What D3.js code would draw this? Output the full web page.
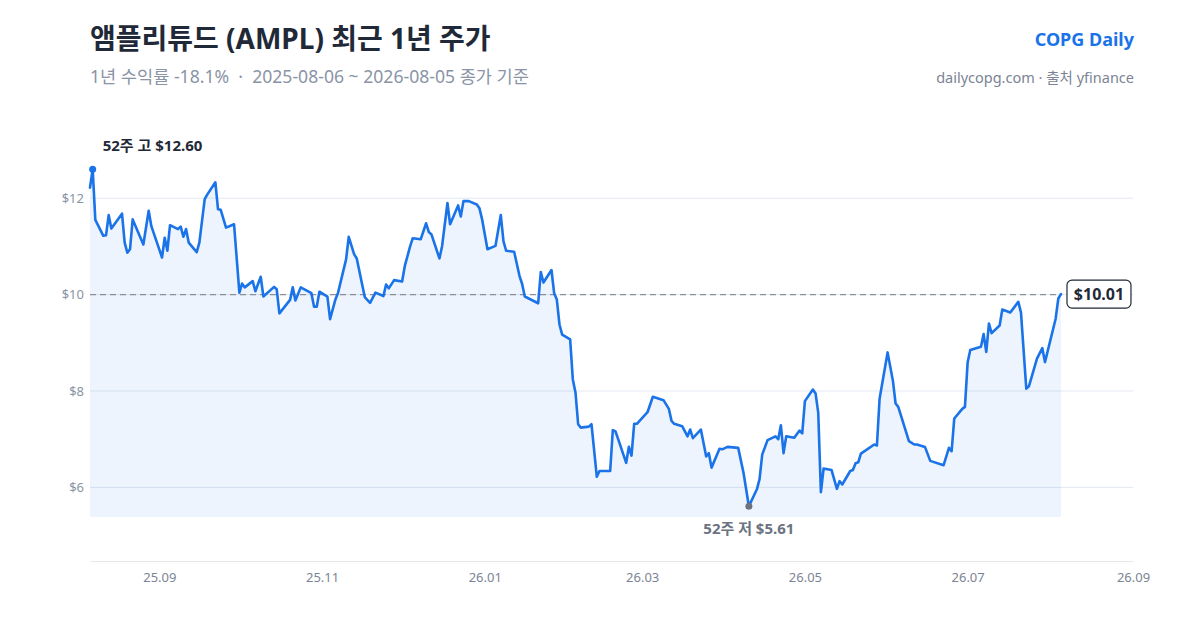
<!DOCTYPE html>
<html lang="ko">
<head>
<meta charset="utf-8">
<script src="https://cdn.jsdelivr.net/npm/d3@7"></script>
<style>
  html, body { margin: 0; padding: 0; background: #fff; }
  svg { display: block; font-family: "Noto Sans", "Noto Sans CJK KR", sans-serif; }
</style>
</head>
<body>
<svg id="chart" width="1200" height="630"></svg>
<script>
// Daily closes (turning points of the line)
const dates = [
  '2025-08-06','2025-08-07','2025-08-08','2025-08-11','2025-08-12','2025-08-13','2025-08-14','2025-08-18','2025-08-19','2025-08-20',
  '2025-08-21','2025-08-22','2025-08-26','2025-08-28','2025-08-29','2025-09-02','2025-09-03','2025-09-04','2025-09-05','2025-09-08',
  '2025-09-09','2025-09-10','2025-09-11','2025-09-12','2025-09-15','2025-09-16','2025-09-18','2025-09-19','2025-09-22','2025-09-23',
  '2025-09-24','2025-09-26','2025-09-29','2025-10-01','2025-10-02','2025-10-03','2025-10-06','2025-10-07','2025-10-09','2025-10-10',
  '2025-10-14','2025-10-15','2025-10-16','2025-10-20','2025-10-21','2025-10-22','2025-10-24','2025-10-28','2025-10-29','2025-10-30',
  '2025-10-31','2025-11-03','2025-11-04','2025-11-06','2025-11-07','2025-11-10','2025-11-11','2025-11-13','2025-11-14','2025-11-17',
  '2025-11-19','2025-11-21','2025-11-24','2025-11-25','2025-11-26','2025-11-28','2025-12-01','2025-12-02','2025-12-04','2025-12-05',
  '2025-12-08','2025-12-10','2025-12-11','2025-12-12','2025-12-15','2025-12-16','2025-12-18','2025-12-19','2025-12-22','2025-12-23',
  '2025-12-24','2025-12-26','2025-12-29','2025-12-30','2025-12-31','2026-01-02','2026-01-05','2026-01-07','2026-01-08','2026-01-09',
  '2026-01-12','2026-01-14','2026-01-15','2026-01-16','2026-01-21','2026-01-22','2026-01-23','2026-01-26','2026-01-27','2026-01-28',
  '2026-01-29','2026-01-30','2026-02-02','2026-02-03','2026-02-04','2026-02-05','2026-02-06','2026-02-09','2026-02-10','2026-02-12',
  '2026-02-13','2026-02-17','2026-02-18','2026-02-19','2026-02-20','2026-02-23','2026-02-24','2026-02-25','2026-02-26','2026-02-27',
  '2026-03-03','2026-03-05','2026-03-09','2026-03-11','2026-03-12','2026-03-13','2026-03-16','2026-03-18','2026-03-19','2026-03-20',
  '2026-03-23','2026-03-25','2026-03-26','2026-03-27','2026-03-30','2026-03-31','2026-04-02','2026-04-06','2026-04-08','2026-04-10',
  '2026-04-13','2026-04-14','2026-04-15','2026-04-17','2026-04-20','2026-04-21','2026-04-22','2026-04-23','2026-04-24','2026-04-27',
  '2026-04-29','2026-04-30','2026-05-01','2026-05-04','2026-05-05','2026-05-06','2026-05-07','2026-05-08','2026-05-11','2026-05-13',
  '2026-05-14','2026-05-15','2026-05-18','2026-05-19','2026-05-20','2026-05-21','2026-05-22','2026-05-27','2026-05-28','2026-05-29',
  '2026-06-01','2026-06-03','2026-06-04','2026-06-05','2026-06-09','2026-06-11','2026-06-12','2026-06-15','2026-06-17','2026-06-22',
  '2026-06-24','2026-06-25','2026-06-26','2026-06-29','2026-06-30','2026-07-01','2026-07-02','2026-07-06','2026-07-07','2026-07-08',
  '2026-07-09','2026-07-10','2026-07-13','2026-07-14','2026-07-17','2026-07-20','2026-07-21','2026-07-23','2026-07-24','2026-07-27',
  '2026-07-29','2026-07-30','2026-08-03','2026-08-04','2026-08-05'
];

const closes = [
  12.22, 12.60, 11.55, 11.22, 11.23, 11.65, 11.37, 11.68, 11.08, 10.87,
  10.94, 11.56, 11.04, 11.74, 11.42, 10.77, 11.18, 10.91, 11.44, 11.36,
  11.41, 11.20, 11.36, 11.08, 10.88, 11.08, 11.98, 12.08, 12.33, 11.77,
  11.76, 11.39, 11.46, 10.04, 10.23, 10.15, 10.28, 10.07, 10.37, 9.96,
  10.16, 10.11, 9.61, 9.89, 10.15, 9.88, 10.15, 10.03, 9.75, 9.75,
  10.06, 9.96, 9.49, 9.90, 10.04, 10.73, 11.20, 10.84, 10.75, 9.95,
  9.83, 10.04, 9.97, 10.21, 10.13, 10.30, 10.27, 10.59, 11.00, 11.17,
  11.15, 11.48, 11.30, 11.25, 10.75, 11.01, 11.90, 11.46, 11.85, 11.62,
  11.94, 11.94, 11.87, 11.79, 11.56, 10.94, 11.01, 11.65, 11.11, 10.91,
  10.89, 10.39, 10.22, 9.96, 9.82, 10.47, 10.25, 10.51, 10.03, 9.90,
  9.38, 9.17, 9.07, 8.24, 7.97, 7.31, 7.24, 7.26, 7.31, 6.22,
  6.34, 6.34, 7.19, 7.16, 7.00, 6.51, 6.84, 6.66, 7.32, 7.32,
  7.56, 7.88, 7.81, 7.63, 7.38, 7.32, 7.27, 7.06, 7.20, 7.02,
  7.20, 6.64, 6.71, 6.41, 6.80, 6.79, 6.84, 6.82, 6.30, 5.61,
  5.96, 6.17, 6.68, 6.98, 7.06, 7.00, 7.29, 6.71, 7.06, 7.03,
  7.18, 7.12, 7.79, 8.03, 7.95, 7.55, 5.90, 6.39, 6.36, 5.97,
  6.13, 6.06, 6.34, 6.36, 6.50, 6.52, 6.70, 6.89, 6.87, 7.84,
  8.80, 8.21, 7.74, 7.67, 6.96, 6.89, 6.89, 6.84, 6.55, 6.46,
  6.82, 6.75, 7.43, 7.63, 7.67, 8.59, 8.85, 8.92, 9.18, 8.81,
  9.40, 9.20, 9.36, 9.69, 9.63, 9.85, 9.63, 8.05, 8.10, 8.67,
  8.89, 8.60, 9.50, 9.92, 10.01
];

const yTicks = [6, 8, 10, 12];
const xTicks = ['2025-09-01', '2025-11-01', '2026-01-01', '2026-03-01', '2026-05-01', '2026-07-01', '2026-09-01'];
const xEnd = '2026-09-01';
const refPrice = 10;

const parseDate = d3.timeParse('%Y-%m-%d');
const data = dates.map((d, i) => ({ date: parseDate(d), close: closes[i] }));

const plot = { left: 90, right: 1133, top: 145, bottom: 517, axisY: 561 };
const lineColor = '#1a73e8';

const svg = d3.select('#chart');

// Header
svg.append('text')
  .attr('x', 90).attr('y', 49)
  .style('font-size', '28px').style('font-weight', 700).style('fill', '#1f2937')
  .text('앰플리튜드 (AMPL) 최근 1년 주가');

svg.append('text')
  .attr('x', 90).attr('y', 83)
  .attr('xml:space', 'preserve')
  .style('font-size', '17.6px').style('fill', '#8a94a6')
  .text('1년 수익률 -18.1%  ·  2025-08-06 ~ 2026-08-05 종가 기준');

svg.append('text')
  .attr('x', 1134).attr('y', 46)
  .attr('text-anchor', 'end')
  .style('font-size', '18px').style('font-weight', 700).style('fill', '#1a73e8')
  .text('COPG Daily');

svg.append('text')
  .attr('x', 1134).attr('y', 83)
  .attr('text-anchor', 'end')
  .style('font-size', '14.5px').style('fill', '#7b8494')
  .text('dailycopg.com · 출처 yfinance');

// Scales
const low = d3.min(data, d => d.close);
const high = d3.max(data, d => d.close);

const x = d3.scaleTime()
  .domain([data[0].date, parseDate(xEnd)])
  .range([plot.left, plot.right]);

const y = d3.scaleLinear()
  .domain([low * 0.96, high * 1.04])
  .range([plot.bottom, plot.top]);

// Grid
svg.append('g')
  .selectAll('line')
  .data(yTicks)
  .enter().append('line')
  .attr('x1', plot.left).attr('x2', plot.right)
  .attr('y1', d => y(d)).attr('y2', d => y(d))
  .style('stroke', '#e3e8f0').style('stroke-width', 1);

// Y axis labels
const yAxis = d3.axisLeft(y)
  .tickValues(yTicks)
  .tickSize(0)
  .tickPadding(6)
  .tickFormat(d => '$' + d);

svg.append('g')
  .attr('transform', `translate(${plot.left},0)`)
  .call(yAxis)
  .call(g => g.select('.domain').remove())
  .call(g => g.selectAll('text')
    .style('font-size', '13px').style('fill', '#8a94a6')
    .style('font-family', '"Noto Sans", sans-serif'));

// X axis
const xAxis = d3.axisBottom(x)
  .tickValues(xTicks.map(parseDate))
  .tickSize(0)
  .tickPadding(12)
  .tickFormat(d3.timeFormat('%y.%m'));

svg.append('g')
  .attr('transform', `translate(0,${plot.axisY})`)
  .call(xAxis)
  .call(g => g.select('.domain').style('stroke', '#e5e7eb'))
  .call(g => g.selectAll('text')
    .style('font-size', '13px').style('fill', '#7b8494')
    .style('font-family', '"Noto Sans", sans-serif'));

// Area
const area = d3.area()
  .x(d => x(d.date))
  .y0(plot.bottom)
  .y1(d => y(d.close));

svg.append('path')
  .datum(data)
  .attr('d', area)
  .style('fill', lineColor)
  .style('fill-opacity', 0.08);

// Reference line at $10
const last = data[data.length - 1];
svg.append('line')
  .attr('x1', plot.left).attr('x2', x(last.date))
  .attr('y1', y(refPrice)).attr('y2', y(refPrice))
  .style('stroke', '#8b8f97').style('stroke-width', 1.2)
  .style('stroke-dasharray', '6,4');

// Price line
const line = d3.line()
  .x(d => x(d.date))
  .y(d => y(d.close));

svg.append('path')
  .datum(data)
  .attr('d', line)
  .style('fill', 'none')
  .style('stroke', lineColor)
  .style('stroke-width', 2.6)
  .style('stroke-linejoin', 'round')
  .style('stroke-linecap', 'round');

// 52-week high / low markers
const hiPt = data.find(d => d.close === high);
const loPt = data.find(d => d.close === low);

svg.append('circle')
  .attr('cx', x(hiPt.date)).attr('cy', y(hiPt.close)).attr('r', 3.5)
  .style('fill', lineColor);

svg.append('text')
  .attr('x', x(hiPt.date) + 10).attr('y', y(hiPt.close) - 18)
  .style('font-size', '15px').style('font-weight', 700).style('fill', '#1f2937')
  .text('52주 고 $' + high.toFixed(2));

svg.append('circle')
  .attr('cx', x(loPt.date)).attr('cy', y(loPt.close)).attr('r', 3.5)
  .style('fill', '#6b7280');

svg.append('text')
  .attr('x', x(loPt.date)).attr('y', y(loPt.close) + 28)
  .attr('text-anchor', 'middle')
  .style('font-size', '15px').style('font-weight', 700).style('fill', '#6b7280')
  .text('52주 저 $' + low.toFixed(2));

// Last price badge
const lx = x(last.date) + 6;
const ly = y(last.close);
svg.append('rect')
  .attr('x', lx).attr('y', ly - 14)
  .attr('width', 64).attr('height', 28)
  .attr('rx', 5)
  .style('fill', '#fff').style('stroke', '#1f2937').style('stroke-width', 1.2);

svg.append('text')
  .attr('x', lx + 32).attr('y', ly + 5.5)
  .attr('text-anchor', 'middle')
  .style('font-size', '16px').style('font-weight', 700).style('fill', '#1f2937')
  .text('$' + last.close.toFixed(2));
</script>
</body>
</html>
